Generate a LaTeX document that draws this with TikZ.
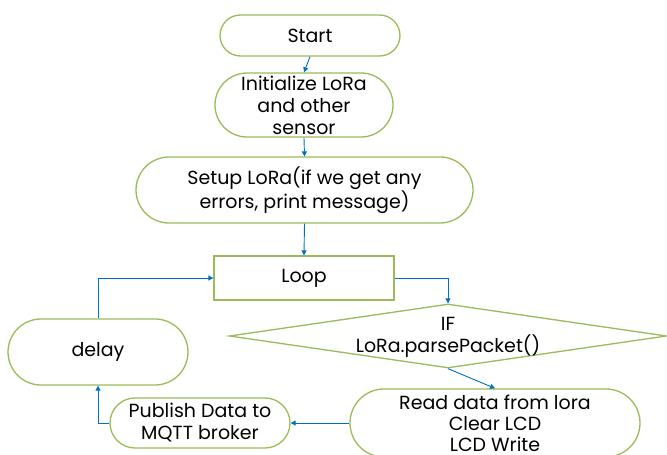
\documentclass[tikz,border=0pt]{standalone}
\usepackage{fontspec}
\setmainfont{Poppins}
\usepackage{tikz}
\usetikzlibrary{arrows.meta,positioning,shapes.geometric,shapes.misc}
\definecolor{boxgreen}{RGB}{155,187,89}
\definecolor{flowblue}{RGB}{0,112,192}

\begin{document}
\begin{tikzpicture}[x=1pt, y=-1pt,
    term/.style={rounded rectangle, draw=boxgreen, line width=1.3pt, minimum width=#1, align=center, inner sep=0pt, font=\fontsize{19}{22}\selectfont},
    term/.default=180pt,
    proc/.style={rectangle, draw=boxgreen, line width=1.3pt, minimum width=180pt, minimum height=44pt, font=\fontsize{19}{22}\selectfont},
    decision/.style={diamond, draw=boxgreen, line width=1.3pt, minimum width=437pt, minimum height=64pt, inner sep=0pt},
    lbl/.style={align=center, font=\fontsize{19}{22}\selectfont},
    arr/.style={-{Triangle[length=5pt,width=5pt]}, line width=0.9pt, color=flowblue}
]
\useasboundingbox (0,0) rectangle (667,455);

% Setup chain (top)
\node[term, minimum height=41pt] (start) at (310,35.5) {Start};
\node[term=178pt, minimum height=64pt] (init) at (304,105) {Initialize LoRa\\and other\\sensor};
\node[term=337pt, minimum height=66pt] (setup) at (304.5,190) {Setup LoRa(if we get any\\errors, print message)};
\node[proc] (loop) at (304,278) {Loop};

% Decision and handling (right)
\node[decision] (ifnode) at (448,336) {};
\node[lbl] (iftext) at (448,337) {IF\\LoRa.parsePacket()};
\node[term=290pt, minimum height=68pt, font=\fontsize{19}{21}\selectfont] (read) at (495,423) {Read data from lora\\Clear LCD\\LCD Write};

% Publish and delay (left)
\node[term, minimum height=50pt] (publish) at (200,423) {Publish Data to\\MQTT broker};
\node[term=180pt, minimum height=66pt] (delay) at (98,352) {delay};

% Connectors
\draw[arr] (start.south) -- (init.north);
\draw[arr] (init.south) -- (setup.north);
\draw[arr] (setup.south) -- (loop.north);
\draw[arr] (loop.east) -| (ifnode.north);
\draw[arr] (ifnode.south) -- (read.north);
\draw[arr] (read.west) -- (publish.east);
\draw[arr] (publish.west) -| (delay.south);
\draw[arr] (delay.north) |- (loop.west);

\end{tikzpicture}
\end{document}
